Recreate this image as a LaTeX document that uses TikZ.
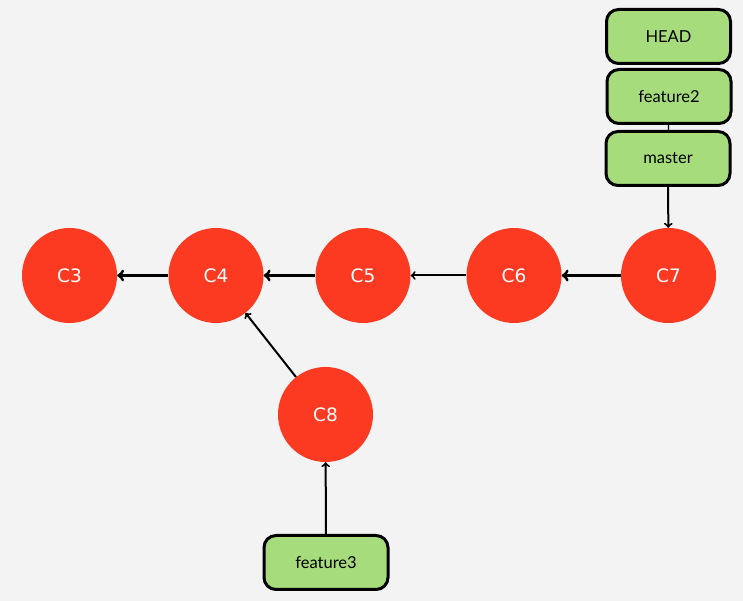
\documentclass[tikz,border=0pt]{standalone}
\usepackage{fontspec}
\setmainfont{Lato}
\newfontfamily\commitfont{DejaVu Sans}
\usepackage{tikz}
\usetikzlibrary{arrows}

\definecolor{bggray}{HTML}{F3F3F3}
\definecolor{commitred}{HTML}{FC3A22}
\definecolor{refgreen}{HTML}{A6DC7C}

\tikzset{
  commit/.style={circle, fill=commitred, minimum size=95pt, inner sep=0pt,
    text=white, font=\commitfont\fontsize{18.5}{18.5}\selectfont},
  ref/.style={draw=black, line width=3pt, fill=refgreen, rounded corners=12pt,
    minimum width=124pt, minimum height=54pt, inner sep=0pt,
    font=\fontsize{16.5}{16.5}\selectfont},
  thick link/.style={->, >=to, line width=3pt},
  thin link/.style={->, >=to, line width=2pt}
}

\begin{document}
\begin{tikzpicture}[x=1pt,y=1pt]
                \fill [bggray] (0,0) rectangle (743,601);
                \useasboundingbox (0,0) rectangle (743,601);
                \node [commit] (c3) at (69.5,325.5) {C3};
                \node [commit] (c4) at (216,325.5) {C4};
                \node [commit] (c5) at (363,325.5) {C5};
                \node [commit] (c6) at (514,325.5) {C6};
                \node [commit] (c7) at (668.5,325.5) {C7};
                \node [commit] (c8) at (325.5,186.5) {C8};
                \node [ref] (head) at (668.5,564.5) {HEAD};
                \node [ref] (feature2) at (669,504.5) {feature2};
                \node [ref] (master) at (668,442.5) {master};
                \node [ref] (feature3) at (326,38.5) {feature3};
                \draw [thick link] (c4) -- (c3);
                \draw [thick link] (c5) -- (c4);
                \draw [thin link] (c6) -- (c5);
                \draw [thick link] (c7) -- (c6);
                \draw [thin link] (c8) -- (c4);
                \draw [thin link] (master) -- (c7);
                \draw [thin link] (feature3) -- (c8);
                \draw [line width=1.2pt] (feature2) -- (master);
            \end{tikzpicture}
\end{document}
